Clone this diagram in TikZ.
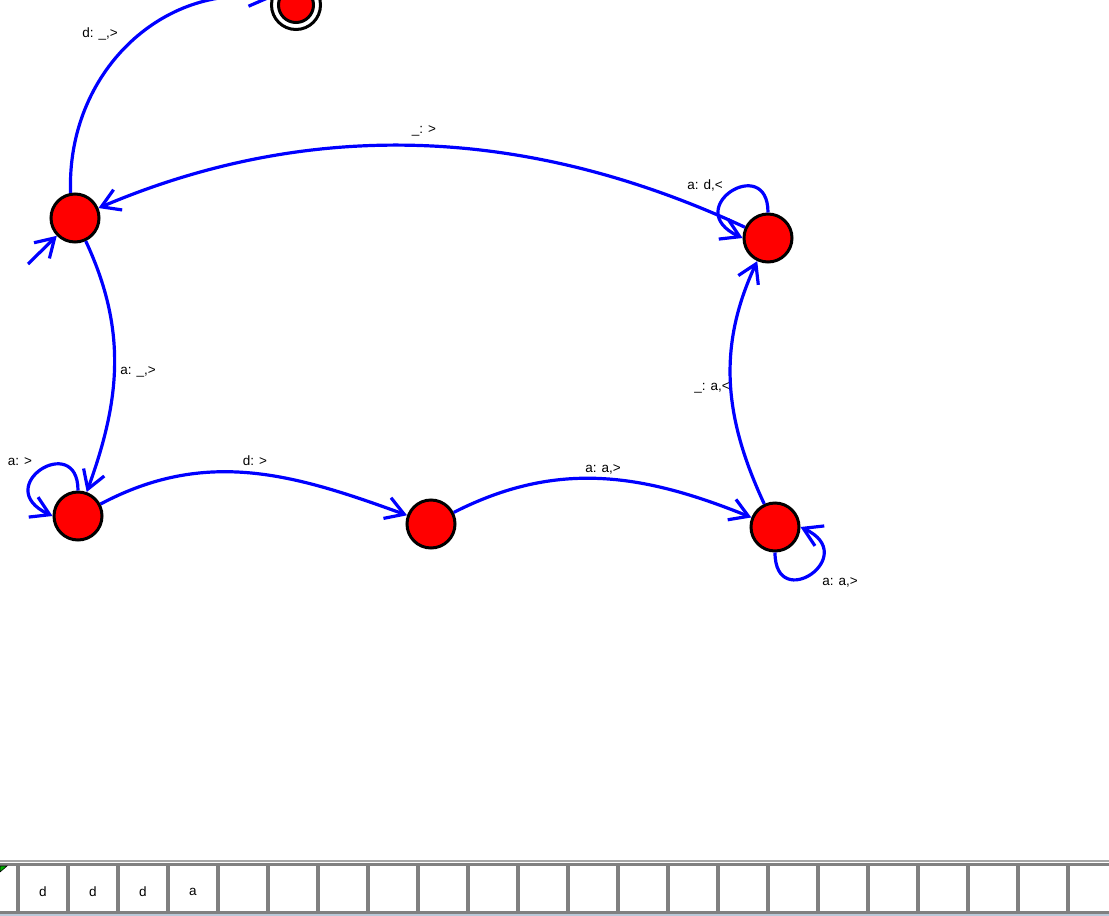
\documentclass[tikz,border=0pt]{standalone}
\usepackage{fontspec}
\setmainfont{Liberation Sans}
\usetikzlibrary{arrows.meta}
\definecolor{tapeblue}{RGB}{184,200,216}
\definecolor{tapegray}{RGB}{128,128,128}
\definecolor{edgeblue}{RGB}{0,0,255}
\begin{document}
\begin{tikzpicture}[x=1pt,y=1pt,
  state/.style={circle, draw=black, line width=3pt, fill=red, minimum size=48pt, inner sep=0pt},
  edge/.style={draw=edgeblue, line width=3.2pt, -{Straight Barb[length=18pt,width=22pt]}},
  lbl/.style={font=\fontsize{13.5}{15}\selectfont, inner sep=0pt, text=black},
  sep/.style={draw=tapegray, line width=4pt}
]
\useasboundingbox (0,0) rectangle (1109,-916);
\clip (0,0) rectangle (1109,-916);
\fill[white] (0,0) rectangle (1109,-916);

% states
\node[state] (A) at (75,-218) {};
\node[state] (B) at (768,-238) {};
\node[state] (C) at (78,-516) {};
\node[state] (D) at (431,-524) {};
\node[state] (E) at (775,-527) {};
\node[state, fill=white, minimum size=49pt] (F) at (296,-5) {};
\node[state, minimum size=35pt] (Fin) at (296,-5) {};

% start arrow
\coordinate (s) at (28,-264);
\draw[edge] (s) -- (A);

% transitions
\draw[edge] (A.100) to[out=92,in=172,out distance=120pt,in distance=110pt] (F.165);
\draw[edge] (B) to[out=155,in=23,looseness=0.93] (A);
\draw[edge] (B.north) to[out=90,in=155,out distance=60pt,in distance=70pt] (B.west);
\draw[edge] (A) to[out=-65,in=70] (C);
\draw[edge] (C.north) to[out=90,in=155,out distance=60pt,in distance=70pt] (C.west);
\draw[edge] (C) to[out=28,in=160] (D);
\draw[edge] (D) to[out=27,in=158] (E);
\draw[edge] (E) to[out=115,in=245] (B);
\draw[edge] (E.south) to[out=-90,in=-25,out distance=62pt,in distance=68pt] (E.east);

% labels
\node[lbl] (l1) at (100,-34) {d: \_,>};
\node[lbl] (l2) at (424,-131) {\_: >};
\node[lbl] (l3) at (705,-185) {a: d,<};
\node[lbl] (l4) at (138,-372) {a: \_,>};
\node[lbl] (l5) at (20,-462) {a: >};
\node[lbl] (l6) at (255,-461) {d: >};
\node[lbl] (l7) at (603,-469) {a: a,>};
\node[lbl] (l8) at (712,-388) {\_: a,<};
\node[lbl] (l9) at (840,-582) {a: a,>};

% tape
\draw[tapegray!70, line width=1.2pt] (0,-861) -- (1109,-861);
\draw[tapegray, line width=3pt] (0,-864.5) -- (1109,-864.5);
\draw[tapegray, line width=4pt] (0,-912.5) -- (1109,-912.5);
\draw[tapeblue, line width=3pt] (0,-915.5) -- (1109,-915.5);
\foreach \k in {0,...,21} {
  \draw[sep] (18+50*\k,-864) -- (18+50*\k,-912);
}
\node[lbl] (t1) at (43,-892) {d};
\node[lbl] (t2) at (93,-892) {d};
\node[lbl] (t3) at (143,-892) {d};
\node[lbl] (t4) at (193,-892) {a};
\filldraw[fill=green!70!black, draw=black, line width=0.6pt] (0,-866) -- (7,-866) -- (0,-872) -- cycle;
\end{tikzpicture}
\end{document}
